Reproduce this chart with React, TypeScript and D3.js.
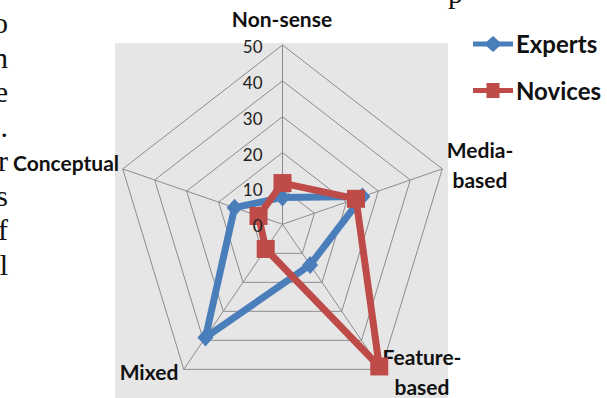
import React, { useEffect, useRef } from "react";
import * as d3 from "d3";

// categories around the radar, clockwise from the top
const categories = ["Non-sense", "Media-based", "Feature-based", "Mixed", "Conceptual"];
const categoryLines = [["Non-sense"], ["Media-", "based"], ["Feature-", "based"], ["Mixed"], ["Conceptual"]];
const seriesNames = ["Experts", "Novices"];
const experts = [7.5, 25, 14, 39, 15];
const novices = [11.5, 23, 49, 8.5, 7.5];
const tickValues = [0, 10, 20, 30, 40, 50];
// cut-off ends of the surrounding document text
const pageLetters = ["o", "n", "e", ".", "r", "s", "f", "l"];

const App = () => {
  const ref = useRef(null);

  useEffect(() => {
    const svg = d3.select(ref.current);
    svg.selectAll("*").remove();

    const cx = 282.5;
    const cy = 224.3;
    const rx = 168;
    const ry = 179.3;
    const font = "Lato, 'Open Sans', sans-serif";

    const r = d3.scaleLinear().domain([0, 50]).range([0, 1]);
    const angle = d3
      .scaleBand()
      .domain(categories)
      .range([0, 2 * Math.PI]);
    const pt = (cat, v) => {
      const a = angle(cat);
      return [cx + Math.sin(a) * r(v) * rx, cy - Math.cos(a) * r(v) * ry];
    };
    const line = d3.line().curve(d3.curveLinearClosed);

    // surrounding page text
    svg
      .append("g")
      .selectAll("text")
      .data(pageLetters)
      .enter()
      .append("text")
      .attr("x", 8)
      .attr("y", (d, i) => 33 + i * 34.5)
      .attr("text-anchor", "end")
      .attr("font-family", "'Liberation Serif', serif")
      .attr("font-size", 30)
      .attr("fill", "#111")
      .text((d) => d);
    svg
      .append("text")
      .attr("x", 448)
      .attr("y", 3)
      .attr("font-family", "'Liberation Serif', serif")
      .attr("font-size", 30)
      .attr("fill", "#111")
      .text("p");

    // plot area
    svg
      .append("rect")
      .attr("x", 115)
      .attr("y", 43)
      .attr("width", 333)
      .attr("height", 360)
      .attr("fill", "#e6e6e6");

    // grid rings
    const grid = svg.append("g");
    tickValues
      .filter((t) => t > 0)
      .forEach((t) => {
        grid
          .append("path")
          .attr("d", line(categories.map((c) => pt(c, t))))
          .attr("fill", "none")
          .attr("stroke", "#8c8c8c")
          .attr("stroke-width", 1);
      });
    categories.forEach((c) => {
      const [x, y] = pt(c, 50);
      grid
        .append("line")
        .attr("x1", cx)
        .attr("y1", cy)
        .attr("x2", x)
        .attr("y2", y)
        .attr("stroke", "#8c8c8c")
        .attr("stroke-width", 1);
    });

    // category labels
    const labelPos = [
      [282, 27],
      [480, 158],
      [422, 365],
      [149, 380],
      [66, 171],
    ];
    categoryLines.forEach((lines, i) => {
      const t = svg
        .append("text")
        .attr("x", labelPos[i][0])
        .attr("y", labelPos[i][1])
        .attr("text-anchor", "middle")
        .attr("font-family", font)
        .attr("font-weight", "bold")
        .attr("font-size", 21)
        .attr("fill", "#111");
      lines.forEach((l, j) => {
        t.append("tspan")
          .attr("x", labelPos[i][0])
          .attr("dy", j === 0 ? 0 : 30)
          .text(l);
      });
    });

    const colors = ["#4a7ebb", "#be4b48"];
    const diamond = (x, y, w, h) => `M${x},${y - h}L${x + w},${y}L${x},${y + h}L${x - w},${y}Z`;

    // series
    [experts, novices].forEach((vals, si) => {
      const pts = categories.map((c, i) => pt(c, vals[i]));
      const g = svg.append("g");
      g.append("path")
        .attr("d", line(pts))
        .attr("fill", "none")
        .attr("stroke", colors[si])
        .attr("stroke-width", 7)
        .attr("stroke-linejoin", "round");
      pts.forEach(([x, y]) => {
        if (si === 0) {
          g.append("path").attr("d", diamond(x, y, 8, 9)).attr("fill", colors[si]);
        } else {
          g.append("rect")
            .attr("x", x - 9)
            .attr("y", y - 9)
            .attr("width", 18)
            .attr("height", 18)
            .attr("fill", colors[si]);
        }
      });
    });

    // tick labels, drawn over the series
    svg
      .append("g")
      .selectAll("text")
      .data(tickValues)
      .enter()
      .append("text")
      .attr("x", cx - 20)
      .attr("y", (d) => pt(categories[0], d)[1] + 8)
      .attr("text-anchor", "end")
      .attr("font-family", font)
      .attr("font-size", 17)
      .attr("fill", "#222")
      .text((d) => d);

    // legend
    const legend = svg.append("g");
    seriesNames.forEach((name, i) => {
      const y = 44 + i * 46.5;
      legend
        .append("line")
        .attr("x1", 473)
        .attr("x2", 513)
        .attr("y1", y)
        .attr("y2", y)
        .attr("stroke", colors[i])
        .attr("stroke-width", 5);
      if (i === 0) {
        legend.append("path").attr("d", diamond(493, y, 9, 8)).attr("fill", colors[i]);
      } else {
        legend
          .append("rect")
          .attr("x", 486.5)
          .attr("y", y - 7.5)
          .attr("width", 13)
          .attr("height", 15)
          .attr("fill", colors[i]);
      }
      legend
        .append("text")
        .attr("x", 516)
        .attr("y", y + 9)
        .attr("font-family", font)
        .attr("font-weight", "bold")
        .attr("font-size", 24)
        .attr("fill", "#111")
        .text(name);
    });
  }, []);

  return (
    <svg
      ref={ref}
      width={607}
      height={398}
      style={{ position: "absolute", left: 0, top: 0, background: "#fff" }}
    />
  );
};

export default App;
